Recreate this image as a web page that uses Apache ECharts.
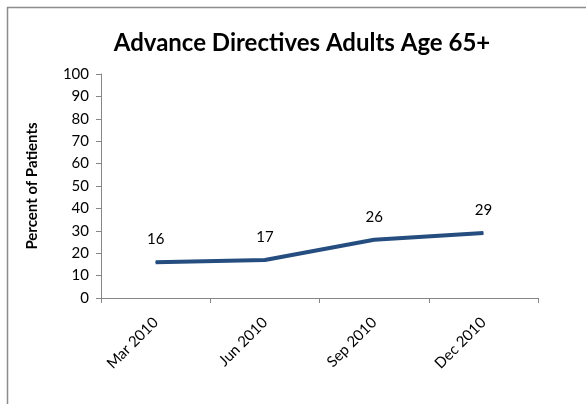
<!DOCTYPE html>
<html><head><meta charset="utf-8">
<script src="https://cdn.jsdelivr.net/npm/echarts@6/dist/echarts.min.js"></script>
<style>html,body{margin:0;padding:0;background:#fff}#c{width:586px;height:404px}</style>
</head><body><div id="c"></div>
<script>
var categories = ['Mar 2010', 'Jun 2010', 'Sep 2010', 'Dec 2010'];
var values = [16, 17, 26, 29];
var yTicks = [0, 10, 20, 30, 40, 50, 60, 70, 80, 90, 100];

var chart = echarts.init(document.getElementById('c'), null, {renderer: 'canvas'});
var font = 'Lato, "Open Sans", sans-serif';
chart.setOption({
  animation: false,
  backgroundColor: '#fff',
  title: {
    text: 'Advance Directives Adults Age 65+',
    left: 297, top: 26, textAlign: 'center',
    textStyle: {fontFamily: font, fontSize: 24, fontWeight: 'bold', color: '#000'}
  },
  graphic: [
    {type: 'line', shape: {x1: 7, y1: 7.5, x2: 586, y2: 7.5}, style: {stroke: '#8c8c8c', lineWidth: 1.5}},
    {type: 'line', shape: {x1: 7.5, y1: 7, x2: 7.5, y2: 404}, style: {stroke: '#8c8c8c', lineWidth: 1.5}}
  ],
  grid: {left: 101, right: 48, top: 74, bottom: 106},
  xAxis: {
    type: 'category', data: categories, boundaryGap: true,
    axisLine: {lineStyle: {color: '#868686', width: 1}},
    axisTick: {show: true, length: 5, alignWithLabel: false, lineStyle: {color: '#868686'}},
    axisLabel: {rotate: 45, margin: 22, fontFamily: font, fontSize: 15, color: '#000', interval: 0}
  },
  yAxis: {
    type: 'value', min: yTicks[0], max: yTicks[yTicks.length - 1], interval: 10,
    name: 'Percent of Patients', nameLocation: 'middle', nameGap: 61, nameRotate: 90,
    nameTextStyle: {fontFamily: font, fontSize: 15, fontWeight: 'bold', color: '#000'},
    axisLine: {show: true, lineStyle: {color: '#868686', width: 1}},
    axisTick: {show: true, length: 5, lineStyle: {color: '#868686'}},
    axisLabel: {margin: 12, fontFamily: font, fontSize: 15, color: '#000'},
    splitLine: {show: false}
  },
  series: [{
    type: 'line', data: values, symbol: 'circle', symbolSize: 1, showSymbol: true,
    itemStyle: {color: '#254d7f'},
    lineStyle: {color: '#254d7f', width: 4},
    label: {show: true, position: 'top', distance: 15, fontFamily: font, fontSize: 15, color: '#000'}
  }]
});
</script></body></html>
